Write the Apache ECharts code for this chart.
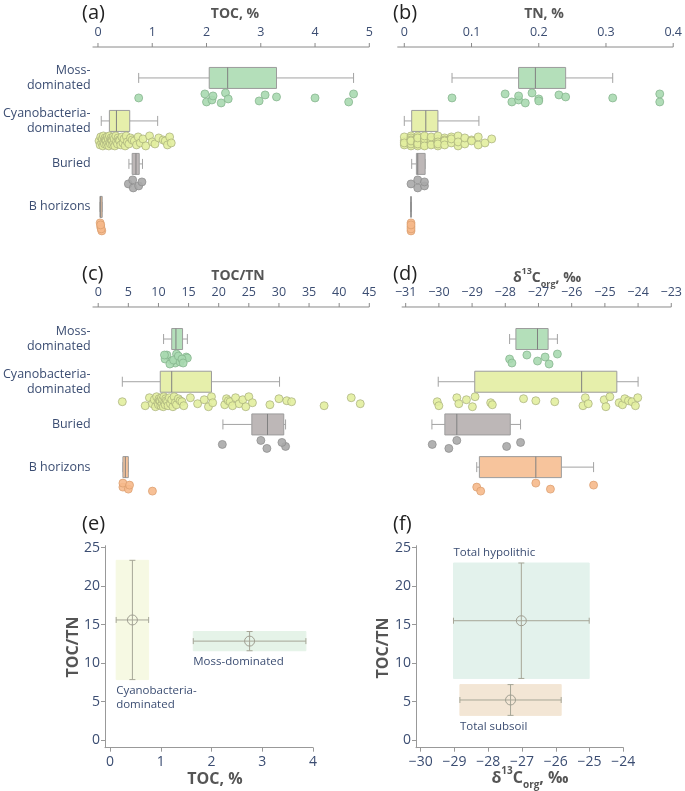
<!DOCTYPE html>
<html><head><meta charset="utf-8">
<script src="https://cdn.jsdelivr.net/npm/echarts@6/dist/echarts.min.js"></script>
<style>html,body{margin:0;padding:0;background:#fff}#c{width:685px;height:791px}</style>
</head><body><div id="c"></div>
<script>
// ---------- categories ----------
const categories = ['Moss-\ndominated', 'Cyanobacteria-\ndominated', 'Buried', 'B horizons'];

// ---------- tick labels ----------
const ticksA = [0, 1, 2, 3, 4, 5];
const ticksB = [0, 0.1, 0.2, 0.3, 0.4];
const ticksC = [0, 5, 10, 15, 20, 25, 30, 35, 40, 45];
const ticksD = [-31, -30, -29, -28, -27, -26, -25, -24, -23];
const ticksEx = [0, 1, 2, 3, 4];
const ticksFx = [-30, -29, -28, -27, -26, -25, -24];
const ticksY = [0, 5, 10, 15, 20, 25];

// ---------- box statistics [whiskerLow, Q1, median, Q3, whiskerHigh] ----------
const boxTOC = [[0.75, 2.05, 2.39, 3.29, 4.71], [0.06, 0.21, 0.34, 0.585, 1.10], [0.57, 0.63, 0.70, 0.76, 0.82], [0.036, 0.036, 0.05, 0.078, 0.078]];
const boxTN = [[0.071, 0.17, 0.195, 0.24, 0.31], [0.0, 0.011, 0.032, 0.05, 0.111], [0.011, 0.018, 0.02, 0.031, 0.031], [0.01, 0.01, 0.01, 0.01, 0.01]];
const boxCN = [[10.85, 12.2, 12.9, 14.0, 14.8], [4.0, 10.3, 12.2, 18.8, 30.1], [20.7, 25.5, 28.1, 30.8, 31.1], [4.1, 4.1, 4.5, 5.0, 5.0]];
const boxD13C = [[-27.87, -27.68, -27.03, -26.71, -26.43], [-30.02, -28.92, -25.70, -24.64, -24.0], [-30.21, -29.82, -29.46, -27.85, -27.54], [-28.86, -28.78, -27.08, -26.31, -25.34]];

// ---------- individual samples ----------
const mossTOC = [0.75, 2.0, 1.97, 2.1, 2.12, 2.27, 2.35, 2.4, 2.97, 3.08, 3.29, 4.0, 4.62, 4.71];
const cyanoTOC = [0.02, 0.04, 0.05, 0.07, 0.08, 0.09, 0.10, 0.11, 0.12, 0.13, 0.14, 0.15, 0.16, 0.17, 0.18, 0.19, 0.20, 0.21, 0.22, 0.23, 0.24, 0.25, 0.26, 0.27, 0.28, 0.29, 0.30, 0.31, 0.33, 0.34, 0.36, 0.37, 0.39, 0.40, 0.42, 0.44, 0.46, 0.48, 0.50, 0.52, 0.54, 0.57, 0.60, 0.63, 0.67, 0.71, 0.74, 0.78, 0.83, 0.88, 0.95, 1.0, 1.05, 1.12, 1.2, 1.24, 1.28, 1.32, 1.35];
const buriedTOC = [0.56, 0.65, 0.64, 0.75, 0.81];
const bhorTOC = [0.05, 0.07, 0.04, 0.06, 0.05];

const mossTN = [0.071, 0.16, 0.15, 0.17, 0.17, 0.18, 0.19, 0.20, 0.20, 0.23, 0.24, 0.31, 0.38, 0.38];
const cyanoTN = [0, 0, 0, 0, 0.01, 0.01, 0.01, 0.01, 0.01, 0.01, 0.01, 0.01, 0.02, 0.02, 0.02, 0.02, 0.02, 0.02, 0.02, 0.02, 0.02, 0.03, 0.03, 0.03, 0.03, 0.03, 0.03, 0.03, 0.03, 0.04, 0.04, 0.04, 0.04, 0.04, 0.04, 0.04, 0.05, 0.05, 0.05, 0.05, 0.05, 0.05, 0.06, 0.06, 0.06, 0.06, 0.07, 0.07, 0.07, 0.08, 0.08, 0.08, 0.09, 0.09, 0.10, 0.10, 0.11, 0.11, 0.12, 0.13];
const buriedTN = [0.01, 0.02, 0.02, 0.03, 0.03];
const bhorTN = [0.01, 0.01, 0.01, 0.01, 0.01];

const mossCN = [11.1, 12.8, 11.4, 12.2, 14.6, 11.9, 13.0, 12.5, 13.6, 13.3, 14.8, 13.9, 14.1, 11.0];
const cyanoCN = [4.0, 7.8, 8.5, 9.0, 9.3, 9.5, 9.7, 9.9, 10.0, 10.1, 10.2, 10.3, 10.4, 10.5, 10.6, 10.7, 10.8, 10.9, 11.0, 11.1, 11.2, 11.3, 11.5, 11.6, 11.8, 12.0, 12.2, 12.4, 12.6, 12.8, 13.0, 13.3, 13.6, 13.9, 14.2, 15.3, 16.5, 17.6, 18.3, 18.8, 19.0, 21.0, 21.3, 21.6, 21.9, 22.3, 22.8, 23.4, 24.0, 24.5, 25.0, 25.6, 28.5, 30.0, 31.3, 32.1, 37.5, 42.0, 43.5];
const buriedCN = [20.6, 28.0, 27.0, 31.1, 30.5];
const bhorCN = [4.1, 9.0, 4.1, 5.0, 5.2];

const mossD13C = [-27.87, -27.80, -27.35, -27.03, -26.80, -26.68, -26.43];
const cyanoD13C = [-30.05, -30.0, -29.46, -29.4, -29.17, -28.99, -28.91, -28.44, -28.39, -27.45, -27.08, -26.51, -25.66, -25.59, -25.5, -25.02, -24.97, -24.85, -24.57, -24.47, -24.4, -24.29, -24.18, -24.08, -24.01];
const buriedD13C = [-30.2, -29.7, -29.46, -27.96, -27.54];
const bhorD13C = [-28.86, -28.74, -27.08, -26.64, -25.34];

// ---------- summary panels (mean, SD) ----------
const eLabels = ['Cyanobacteria-\ndominated', 'Moss-dominated'];
const eTOCmean = [0.44, 2.75];
const eTOCsd = [0.32, 1.11];
const eCNmean = [15.6, 12.85];
const eCNsd = [7.75, 1.25];

const fLabels = ['Total hypolithic', 'Total subsoil'];
const fD13Cmean = [-27.02, -27.34];
const fD13Csd = [2.01, 1.5];
const fCNmean = [15.5, 5.2];
const fCNsd = [7.5, 2.0];

// ---------- styles ----------
const FONT = 'Open Sans';
const TXT = '#3b4d72';
const AXC = '#8a8a8a';
const boxFill = ['#b4dfba', '#e6efab', '#bdb7b7', '#f7c49c'];
const ptFill = ['#a9d9b0', '#e2ee9f', '#a9a9a9', '#f6b98b'];
const ptStroke = ['#82b18a', '#a7ae7c', '#8c8c8c', '#d99c6c'];
const jitter = [20, 24, 16, 22, 18, 25, 15, 21, 23, 17, 19]; // px below category centre
const fmt = v => (v < 0 ? '\u2212' + Math.abs(v) : String(v));

// category slots run downward: slot position = -(index + off); the top axis sits on y = 0
const boxPanels = [
  {grid: {left: 90, top: 46, width: 279.3, height: 194}, xmin: -0.1, xmax: 5, ticks: ticksA, box: boxTOC, pts: [mossTOC, cyanoTOC, buriedTOC, bhorTOC], labels: true, off: 0.72, span: 4.49, pad: 0.0233, pxu: 43},
  {grid: {left: 397.3, top: 46, width: 277.7, height: 194}, xmin: -0.0104, xmax: 0.4, ticks: ticksB, box: boxTN, pts: [mossTN, cyanoTN, buriedTN, bhorTN], labels: false, off: 0.72, span: 4.49, pad: 0.0233, pxu: 43},
  {grid: {left: 90, top: 306, width: 279.3, height: 194}, xmin: -0.94, xmax: 45, ticks: ticksC, box: boxCN, pts: [mossCN, cyanoCN, buriedCN, bhorCN], labels: true, off: 0.75, span: 4.52, pad: 0.0234, pxu: 42.7},
  {grid: {left: 401.7, top: 306, width: 272.6, height: 194}, xmin: -31.12, xmax: -23, ticks: ticksD, box: boxD13C, pts: [mossD13C, cyanoD13C, buriedD13C, bhorD13C], labels: false, off: 0.75, span: 4.52, pad: 0.0234, pxu: 42.7}
];

const grids = [], xAxes = [], yAxes = [], series = [];

function boxRender(params, api) {
  const p = api.value(0);
  const g = api.value(6);
  const xs = [1, 2, 3, 4, 5].map(i => api.coord([api.value(i), p])[0]);
  const yc = api.coord([api.value(3), p])[1];
  const h = 10.5, cap = 5;
  const ln = {stroke: '#a3a3a3', lineWidth: 1};
  return {type: 'group', children: [
    {type: 'line', shape: {x1: xs[0], y1: yc, x2: xs[1], y2: yc}, style: ln},
    {type: 'line', shape: {x1: xs[3], y1: yc, x2: xs[4], y2: yc}, style: ln},
    {type: 'line', shape: {x1: xs[0], y1: yc - cap, x2: xs[0], y2: yc + cap}, style: ln},
    {type: 'line', shape: {x1: xs[4], y1: yc - cap, x2: xs[4], y2: yc + cap}, style: ln},
    {type: 'rect', shape: {x: xs[1], y: yc - h, width: xs[3] - xs[1], height: 2 * h}, style: {fill: boxFill[g], stroke: '#9c9c9c', lineWidth: 1}},
    {type: 'line', shape: {x1: xs[2], y1: yc - h, x2: xs[2], y2: yc + h}, style: {stroke: '#808080', lineWidth: 1}}
  ]};
}

// top axis line + ticks, positioned through the panel's scales (item 0 = line, others = ticks)
function axisRender(params, api) {
  const a = api.coord([api.value(0), 0]);
  const b = api.coord([api.value(1), 0]);
  if (api.value(2) === 0) {
    return {type: 'line', shape: {x1: a[0], y1: a[1], x2: b[0], y2: b[1]}, style: {stroke: AXC, lineWidth: 1}};
  }
  return {type: 'line', shape: {x1: a[0], y1: a[1], x2: a[0], y2: a[1] - 4}, style: {stroke: AXC, lineWidth: 1}};
}

boxPanels.forEach((P, k) => {
  grids.push(P.grid);
  const catPos = categories.map((c, i) => -(i + P.off));
  xAxes.push({
    gridIndex: k, type: 'value', position: 'top', min: P.xmin, max: P.xmax,
    axisLine: {show: false},
    axisTick: {show: false},
    axisLabel: {customValues: P.ticks, formatter: fmt, color: TXT, fontSize: 12.5, fontFamily: FONT, margin: 7},
    splitLine: {show: false}
  });
  yAxes.push({
    gridIndex: k, type: 'value', min: -P.span, max: P.pad,
    axisLine: {show: false}, axisTick: {show: false}, splitLine: {show: false},
    axisLabel: {show: P.labels, customValues: catPos, formatter: v => categories[Math.round(-v - P.off)] || '', color: TXT, fontSize: 12.5, lineHeight: 15, fontFamily: FONT, margin: 2, align: 'right'}
  });
  series.push({
    type: 'custom', xAxisIndex: k, yAxisIndex: k, renderItem: axisRender, clip: false, silent: true,
    encode: {x: [0, 1]},
    data: [[P.xmin, P.xmax, 0], ...P.ticks.map(t => [t, t, 1])], z: 1
  });
  series.push({
    type: 'custom', xAxisIndex: k, yAxisIndex: k, renderItem: boxRender, clip: false, silent: true,
    encode: {x: [1, 2, 3, 4, 5], y: 0},
    data: P.box.map((b, i) => [catPos[i], ...b, i]), z: 2
  });
  P.pts.forEach((arr, g) => {
    series.push({
      type: 'scatter', xAxisIndex: k, yAxisIndex: k, symbolSize: 8, silent: true, z: 3,
      itemStyle: {color: ptFill[g], opacity: 0.9, borderColor: ptStroke[g], borderWidth: 0.8},
      data: arr.map((v, i) => [v, catPos[g] - jitter[i % jitter.length] / P.pxu])
    });
  });
});

// ---------- summary panels ----------
function summaryRender(fills, labels, place) {
  return function (params, api) {
    const i = params.dataIndex;
    const mx = api.value(0), my = api.value(1), sx = api.value(2), sy = api.value(3);
    const tl = api.coord([mx - sx, my + sy]);
    const br = api.coord([mx + sx, my - sy]);
    const c = api.coord([mx, my]);
    const ln = {stroke: '#a6a697', lineWidth: 1};
    const cap = 3;
    const lbl = place[i] === 'above'
      ? {x: tl[0], y: tl[1] - 3, verticalAlign: 'bottom'}
      : {x: tl[0], y: br[1] + 4, verticalAlign: 'top'};
    return {type: 'group', children: [
      {type: 'rect', shape: {x: tl[0], y: tl[1], width: br[0] - tl[0], height: br[1] - tl[1]}, style: {fill: fills[i], stroke: fills[i], lineWidth: 1}},
      {type: 'line', shape: {x1: tl[0], y1: c[1], x2: br[0], y2: c[1]}, style: ln},
      {type: 'line', shape: {x1: c[0], y1: tl[1], x2: c[0], y2: br[1]}, style: ln},
      {type: 'line', shape: {x1: tl[0], y1: c[1] - cap, x2: tl[0], y2: c[1] + cap}, style: ln},
      {type: 'line', shape: {x1: br[0], y1: c[1] - cap, x2: br[0], y2: c[1] + cap}, style: ln},
      {type: 'line', shape: {x1: c[0] - cap, y1: tl[1], x2: c[0] + cap, y2: tl[1]}, style: ln},
      {type: 'line', shape: {x1: c[0] - cap, y1: br[1], x2: c[0] + cap, y2: br[1]}, style: ln},
      {type: 'circle', shape: {cx: c[0], cy: c[1], r: 5}, style: {fill: 'none', stroke: '#a09f92', lineWidth: 1}},
      {type: 'text', style: {text: labels[i], x: lbl.x, y: lbl.y, verticalAlign: lbl.verticalAlign, align: 'left', fill: TXT, fontSize: 11.5, lineHeight: 14, fontFamily: FONT}}
    ]};
  };
}

const sumPanels = [
  {grid: {left: 105, top: 545.7, width: 208, height: 202}, xmin: -0.1, xmax: 4, xt: ticksEx,
   data: eTOCmean.map((m, i) => [m, eCNmean[i], eTOCsd[i], eCNsd[i]]),
   fills: ['#f6f9e3', '#e5f3e8'], labels: eLabels, place: ['below', 'below']},
  {grid: {left: 416, top: 545.7, width: 207.3, height: 202}, xmin: -30.14, xmax: -24, xt: ticksFx,
   data: fD13Cmean.map((m, i) => [m, fCNmean[i], fD13Csd[i], fCNsd[i]]),
   fills: ['#e3f2ec', '#f3e6d5'], labels: fLabels, place: ['above', 'below']}
];
sumPanels.forEach((P, j) => {
  const k = grids.length;
  grids.push(P.grid);
  xAxes.push({
    gridIndex: k, type: 'value', position: 'bottom', min: P.xmin, max: P.xmax,
    axisLine: {show: true, onZero: false, lineStyle: {color: '#999', width: 1}},
    axisTick: {show: true, customValues: P.xt, length: 4, lineStyle: {color: '#999'}},
    axisLabel: {customValues: P.xt, formatter: fmt, color: TXT, fontSize: 14, fontFamily: FONT, margin: 7},
    splitLine: {show: false}
  });
  yAxes.push({
    gridIndex: k, type: 'value', min: -1, max: 25.25,
    axisLine: {show: true, onZero: false, lineStyle: {color: '#999', width: 1}},
    axisTick: {show: true, customValues: ticksY, length: 4, lineStyle: {color: '#999'}},
    axisLabel: {customValues: ticksY, formatter: fmt, color: TXT, fontSize: 14, fontFamily: FONT, margin: 5},
    splitLine: {show: false}
  });
  series.push({
    type: 'custom', xAxisIndex: k, yAxisIndex: k, clip: false, silent: true,
    renderItem: summaryRender(P.fills, P.labels, P.place),
    encode: {x: 0, y: 1}, data: P.data
  });
});

// ---------- texts ----------
const letter = (t, x, y) => ({type: 'text', x: x, y: y, style: {text: t, fontSize: 20, fontFamily: FONT, fill: '#222', align: 'left', verticalAlign: 'middle'}});
const ttl = (t, x, y, size) => ({type: 'text', x: x, y: y, style: {text: t, fontSize: size, fontWeight: 'bold', fontFamily: FONT, fill: '#555', align: 'center', verticalAlign: 'middle'}});
const deltaTitle = (x, y, size) => ({type: 'text', x: x, y: y, style: {
  text: '{m|\u03B4}{sup|13}{m|C}{sub|org}{m|, \u2030}', align: 'center', verticalAlign: 'middle', fill: '#555', fontFamily: FONT,
  rich: {
    m: {fontSize: size, fontWeight: 'bold', fontFamily: FONT, fill: '#555', lineHeight: size + 8},
    sup: {fontSize: Math.round(size * 0.65), fontWeight: 'bold', fontFamily: FONT, fill: '#555', verticalAlign: 'top', lineHeight: size + 8},
    sub: {fontSize: Math.round(size * 0.65), fontWeight: 'bold', fontFamily: FONT, fill: '#555', verticalAlign: 'bottom', lineHeight: size + 8}
  }}});

const graphics = [
  letter('(a)', 82, 13), letter('(b)', 393, 13), letter('(c)', 82, 274), letter('(d)', 393, 274),
  letter('(e)', 82, 524), letter('(f)', 393, 524),
  ttl('TOC, %', 235, 14, 14), ttl('TN, %', 544, 14, 14), ttl('TOC/TN', 238, 276, 14),
  deltaTitle(547, 278, 14),
  ttl('TOC, %', 215, 779, 16), deltaTitle(530, 778, 16),
  Object.assign(ttl('TOC/TN', 0, 0, 16), {x: 73, y: 647, rotation: Math.PI / 2}),
  Object.assign(ttl('TOC/TN', 0, 0, 16), {x: 383, y: 648, rotation: Math.PI / 2})
];

const chart = echarts.init(document.getElementById('c'), null, {renderer: 'canvas'});
chart.setOption({
  animation: false,
  backgroundColor: '#fff',
  grid: grids, xAxis: xAxes, yAxis: yAxes, series: series,
  graphic: graphics
});
</script></body></html>
